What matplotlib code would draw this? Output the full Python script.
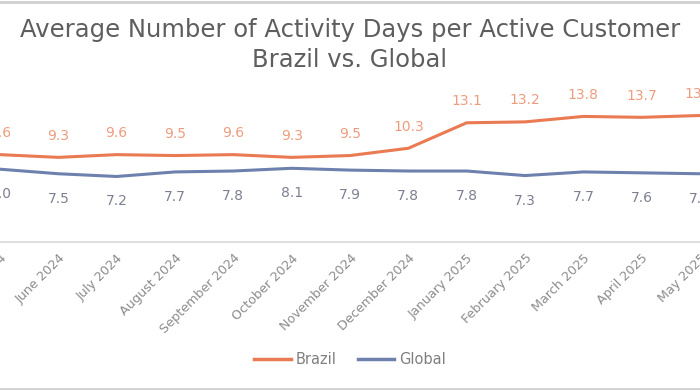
import matplotlib
matplotlib.use("Agg")
import matplotlib.pyplot as plt
from matplotlib.lines import Line2D

plt.rcParams['font.family'] = ['DejaVu Sans']

months = ["May 2024", "June 2024", "July 2024", "August 2024", "September 2024",
          "October 2024", "November 2024", "December 2024", "January 2025",
          "February 2025", "March 2025", "April 2025", "May 2025"]
brazil = [9.6, 9.3, 9.6, 9.5, 9.6, 9.3, 9.5, 10.3, 13.1, 13.2, 13.8, 13.7, 13.9]
global_ = [8.0, 7.5, 7.2, 7.7, 7.8, 8.1, 7.9, 7.8, 7.8, 7.3, 7.7, 7.6, 7.5]

c_br = "#E97A52"
c_gl = "#6E80AE"
c_br_txt = "#EE9C7E"
c_gl_txt = "#7D8090"
c_tick = "#8C8C8C"

W, H = 700, 390
fig = plt.figure(figsize=(7, 3.9), dpi=100)

px_per_unit = 59.0
x0_px = -2.0
xmin = -x0_px / px_per_unit
xmax = xmin + W / px_per_unit

y0_px = 242.0
py_per_unit = 9.1
ymax = 16.0
ax_bottom = (H - y0_px) / H
ax_height = ymax * py_per_unit / H
ax = fig.add_axes([0, ax_bottom, 1, ax_height])

x = list(range(len(months)))
ax.plot(x, brazil, color=c_br, lw=2.2, solid_capstyle='round', solid_joinstyle='round')
ax.plot(x, global_, color=c_gl, lw=2.2, solid_capstyle='round', solid_joinstyle='round')

for xi, v in zip(x, brazil):
    ax.annotate(f"{v:.1f}", (xi, v), xytext=(0, 15.5), textcoords='offset points',
                ha='center', va='center', color=c_br_txt, fontsize=10, annotation_clip=False)
for xi, v in zip(x, global_):
    ax.annotate(f"{v:.1f}", (xi, v), xytext=(0, -18), textcoords='offset points',
                ha='center', va='center', color=c_gl_txt, fontsize=10, annotation_clip=False)

ax.set_xlim(xmin, xmax)
ax.set_ylim(0, ymax)
ax.set_yticks([])
ax.set_xticks(x)
ax.set_xticklabels(months, rotation=45, ha='right', rotation_mode='anchor',
                   fontsize=9.2, color=c_tick)
ax.tick_params(axis='x', length=0, pad=7)
for s in ['top', 'left', 'right']:
    ax.spines[s].set_visible(False)
ax.spines['bottom'].set_color('#D9D9D9')
ax.spines['bottom'].set_linewidth(1.2)
ax.patch.set_alpha(0)

fig.text(0.5, 1 - 30 / H, "Average Number of Activity Days per Active Customer",
         ha='center', va='center', fontsize=17.5, color='#5E5E5E')
fig.text(0.5, 1 - 60 / H, "Brazil vs. Global",
         ha='center', va='center', fontsize=17.5, color='#5E5E5E')

handles = [Line2D([], [], color=c_br, lw=2.5), Line2D([], [], color=c_gl, lw=2.5)]
fig.legend(handles, ["Brazil", "Global"], loc='center', bbox_to_anchor=(0.5, 1 - 360 / H),
           ncol=2, frameon=False, fontsize=10.5, labelcolor='#7F7F7F',
           handlelength=2.5, handletextpad=0.3, columnspacing=1.5)

fig.add_artist(Line2D([0, 1], [1 - 1.5 / H, 1 - 1.5 / H], transform=fig.transFigure,
                      color='#D0D0D0', lw=2))
fig.add_artist(Line2D([0, 1], [1.5 / H, 1.5 / H], transform=fig.transFigure,
                      color='#D0D0D0', lw=2))

fig.savefig("out.png", dpi=100)
